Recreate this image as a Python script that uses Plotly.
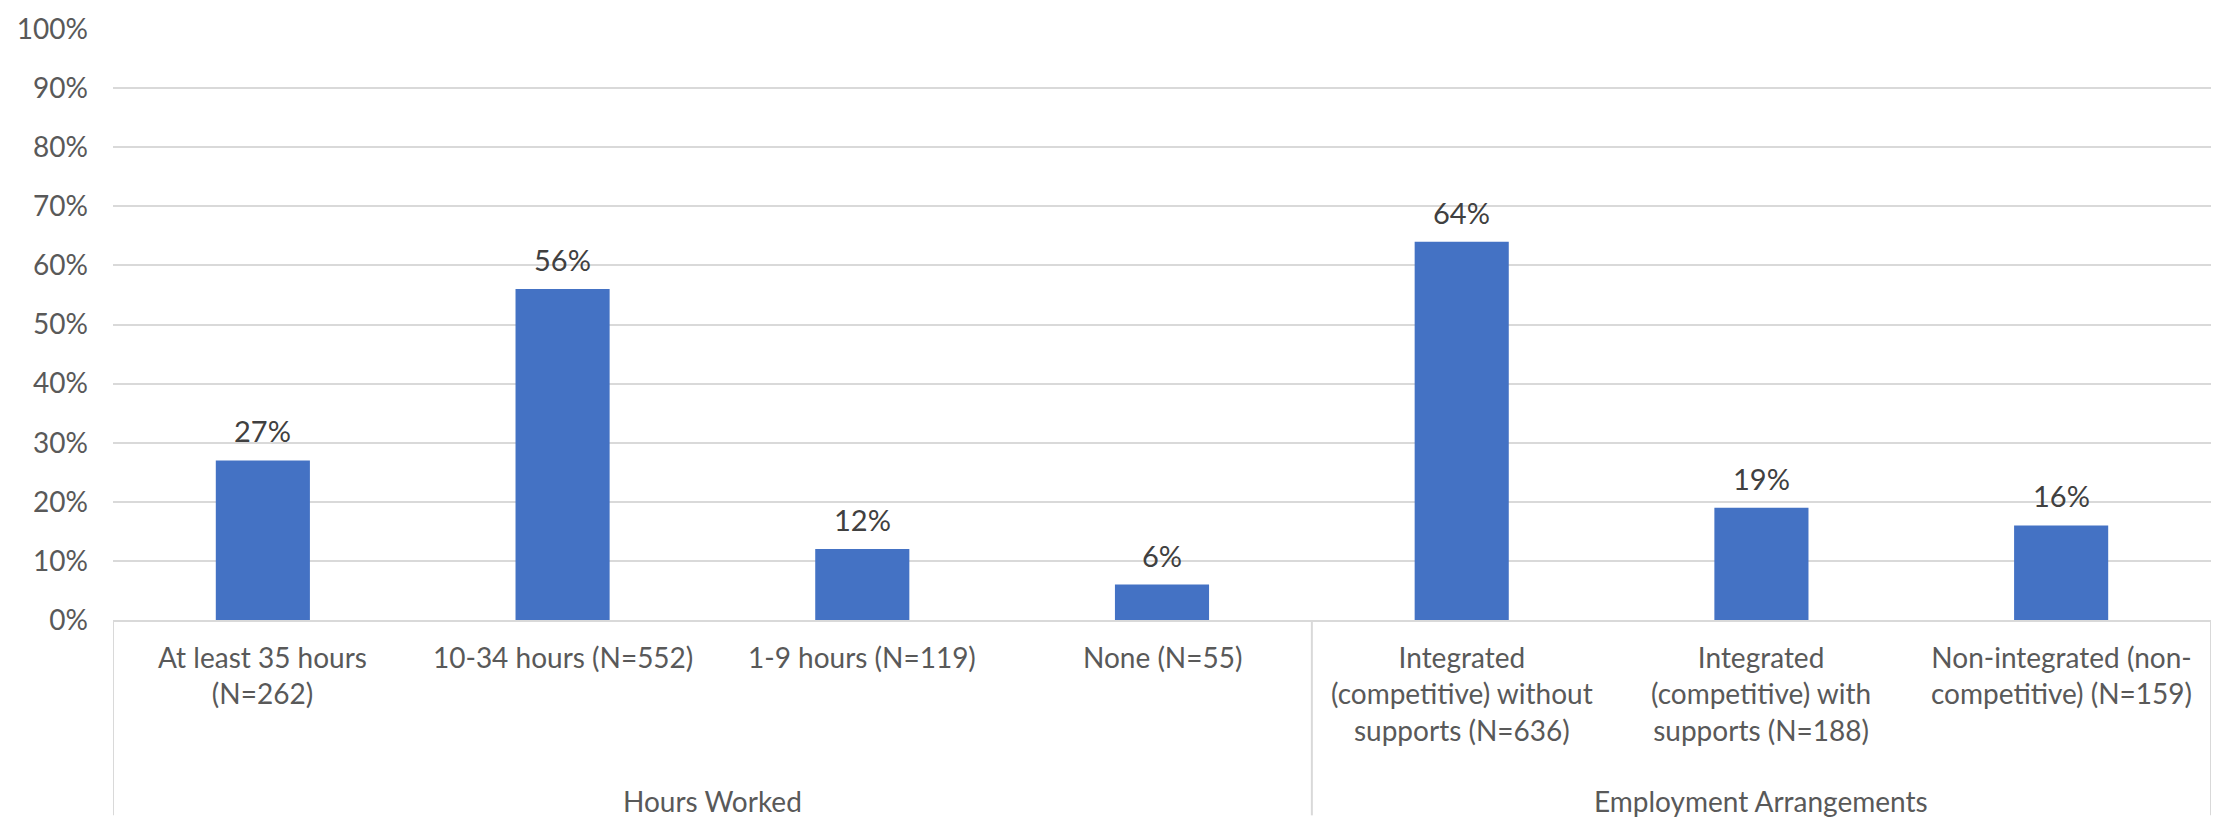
import plotly.graph_objects as go

# Employment outcomes: share of respondents per category
groups = ["Hours Worked", "Employment Arrangements"]
group_sizes = [4, 3]
categories = [
    "At least 35 hours<br>(N=262)",
    "10-34 hours (N=552)",
    "1-9 hours (N=119)",
    "None (N=55)",
    "Integrated<br>(competitive) without<br>supports (N=636)",
    "Integrated<br>(competitive) with<br>supports (N=188)",
    "Non-integrated (non-<br>competitive) (N=159)",
]
shares = [0.27, 0.56, 0.12, 0.06, 0.64, 0.19, 0.16]
y_ticks = [0.0, 0.1, 0.2, 0.3, 0.4, 0.5, 0.6, 0.7, 0.8, 0.9, 1.0]

W, H = 2222, 818
M_L, M_R, M_T, M_B = 113, 11, 21, 198
plot_h = H - M_T - M_B

FONT = "Lato"
AXIS_GREY = "#595959"
LABEL_GREY = "#404040"
LINE_GREY = "#d9d9d9"
BAR_BLUE = "#4472C4"

fig = go.Figure(
    go.Bar(
        x=list(range(len(categories))),
        y=shares,
        marker=dict(color=BAR_BLUE, line=dict(width=0)),
        hoverinfo="skip",
    )
)

annotations = []
# value labels above bars
for i, v in enumerate(shares):
    annotations.append(dict(
        x=i, y=v, xref="x", yref="y",
        text=f"{round(v * 100):d}%",
        showarrow=False, yanchor="bottom", yshift=10,
        font=dict(family=FONT, size=29, color=LABEL_GREY),
    ))

# inner category labels
for i, c in enumerate(categories):
    annotations.append(dict(
        x=i, y=0, xref="x", yref="paper",
        text=c, showarrow=False, yanchor="top", yshift=-18,
        align="center",
        font=dict(family=FONT, size=28, color=AXIS_GREY),
    ))

# outer group labels and group dividers
shapes = []
bottom = -M_B / plot_h
start = 0
edges = [-0.5]
for g, n in zip(groups, group_sizes):
    mid = start + (n - 1) / 2
    annotations.append(dict(
        x=mid, y=0, xref="x", yref="paper",
        text=g, showarrow=False, yanchor="middle", yshift=-181,
        font=dict(family=FONT, size=28, color=AXIS_GREY),
    ))
    start += n
    edges.append(start - 0.5)

for e in edges:
    shapes.append(dict(
        type="line", xref="x", yref="paper",
        x0=e, x1=e, y0=0, y1=bottom,
        line=dict(color=LINE_GREY, width=2),
    ))

fig.update_layout(
    width=W, height=H,
    margin=dict(l=M_L, r=M_R, t=M_T, b=M_B),
    paper_bgcolor="white", plot_bgcolor="white",
    bargap=0.686,
    showlegend=False,
    annotations=annotations,
    shapes=shapes,
    xaxis=dict(
        range=[-0.5, len(categories) - 0.5],
        showticklabels=False, showgrid=False, zeroline=False,
        showline=True, linecolor=LINE_GREY, linewidth=2,
        ticks="",
    ),
    yaxis=dict(
        range=[0, 1], tickvals=y_ticks, tickformat=".0%",
        showgrid=True, gridcolor=LINE_GREY, gridwidth=2,
        zeroline=False, showline=False, ticks="",
        ticklabelstandoff=24,
        tickfont=dict(family=FONT, size=28, color=AXIS_GREY),
    ),
)

fig.write_html("out.html")
